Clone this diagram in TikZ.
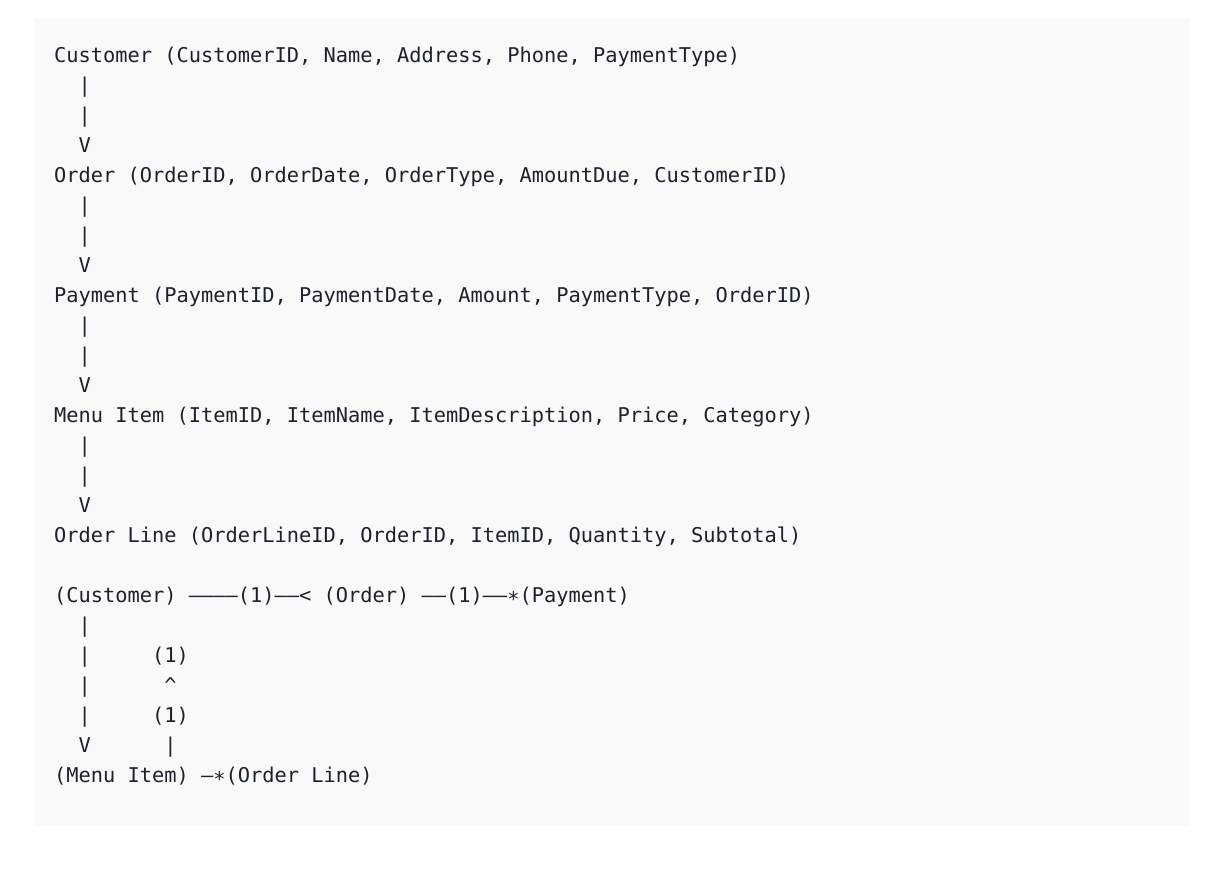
\documentclass[tikz,border=0pt]{standalone}
\usepackage{fontspec}
\setmonofont{DejaVu Sans Mono}
\definecolor{ink}{RGB}{30,33,44}
\definecolor{bg}{RGB}{249,249,249}
\tikzset{
  code/.style={anchor=base west, inner sep=0pt, outer sep=0pt, text=ink,
    font=\ttfamily\fontsize{20.35pt}{24pt}\selectfont}
}
\newcommand{\midstar}{\char"2217}
\newcommand{\dsh}{\char"2013}
\begin{document}
\begin{tikzpicture}[x=1pt,y=-1pt]
\useasboundingbox (0,0) rectangle (1230,876);
\fill[bg] (34,19) rectangle (1190,826);
% entity list
\node[code] (l0)  at (54,62)  {Customer (CustomerID, Name, Address, Phone, PaymentType)};
\node[code] (l1)  at (78.5,92)  {|};
\node[code] (l2)  at (78.5,122) {|};
\node[code] (l3)  at (78.5,152) {V};
\node[code] (l4)  at (54,182) {Order (OrderID, OrderDate, OrderType, AmountDue, CustomerID)};
\node[code] (l5)  at (78.5,212) {|};
\node[code] (l6)  at (78.5,242) {|};
\node[code] (l7)  at (78.5,272) {V};
\node[code] (l8)  at (54,302) {Payment (PaymentID, PaymentDate, Amount, PaymentType, OrderID)};
\node[code] (l9)  at (78.5,332) {|};
\node[code] (l10) at (78.5,362) {|};
\node[code] (l11) at (78.5,392) {V};
\node[code] (l12) at (54,422) {Menu Item (ItemID, ItemName, ItemDescription, Price, Category)};
\node[code] (l13) at (78.5,452) {|};
\node[code] (l14) at (78.5,482) {|};
\node[code] (l15) at (78.5,512) {V};
\node[code] (l16) at (54,542) {Order Line (OrderLineID, OrderID, ItemID, Quantity, Subtotal)};
% relationship sketch
\node[code] (r0)  at (54,602) {(Customer) \dsh\dsh\dsh\dsh(1)\dsh\dsh< (Order) \dsh\dsh(1)\dsh\dsh\midstar(Payment)};
\node[code] (r1)  at (78.5,632) {|};
\node[code] (r2)  at (78.5,662) {|};
\node[code] (r2b) at (152,662) {(1)};
\node[code] (r3)  at (78.5,692) {|};
\node[code] (r3b) at (164.25,692) {\textasciicircum};
\node[code] (r4)  at (78.5,722) {|};
\node[code] (r4b) at (152,722) {(1)};
\node[code] (r5)  at (78.5,752) {V};
\node[code] (r5b) at (164.25,752) {|};
\node[code] (r6)  at (54,782) {(Menu Item) \dsh\midstar(Order Line)};
\end{tikzpicture}
\end{document}
